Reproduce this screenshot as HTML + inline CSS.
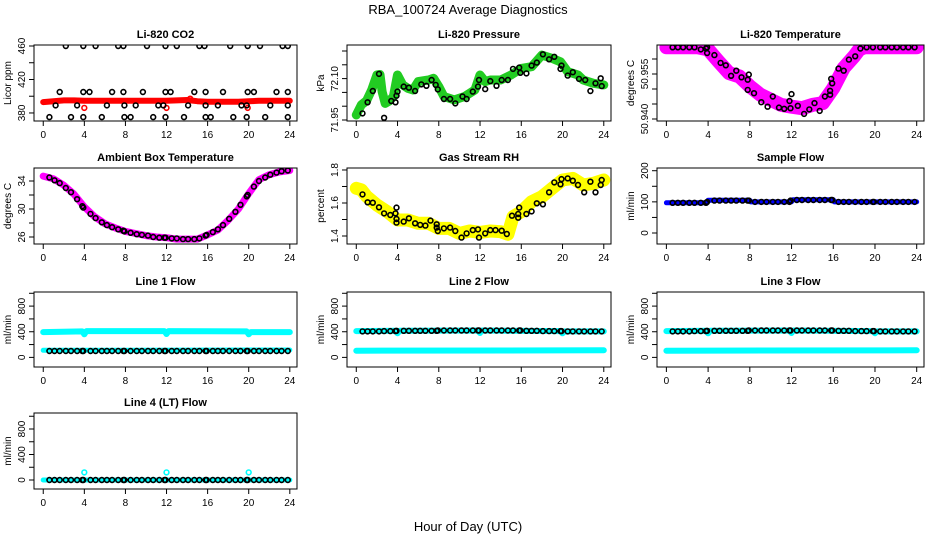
<!DOCTYPE html>
<html><head><meta charset="utf-8"><style>
html,body{margin:0;padding:0;background:#fff}
svg{display:block;font-family:"Liberation Sans",sans-serif}
</style></head><body>
<svg id="chart" width="936" height="540" viewBox="0 0 936 540">
<text x="468" y="14" text-anchor="middle" font-size="13">RBA_100724  Average Diagnostics</text>
<text x="468" y="531" text-anchor="middle" font-size="13">Hour of Day (UTC)</text>
</svg>
<script>
// ---------- data ----------
const blackHours = [0.6,1.1,1.6,2.2,2.7,3.3,3.8,3.9,4.6,5.1,5.7,6.2,6.7,7.3,7.8,7.9,8.5,9.1,9.6,10.2,10.7,11.3,11.8,11.9,12.5,13.0,13.6,14.1,14.7,15.2,15.8,15.9,16.5,17.0,17.5,18.1,18.7,19.2,19.8,19.9,20.5,21.0,21.6,22.1,22.7,23.2,23.8];
const hourly = [0,1,2,3,4,5,6,7,8,9,10,11,12,13,14,15,16,17,18,19,20,21,22,23,24];

// CO2
const co2Band = [393,394,395,395,394.5,394.5,394.5,394.5,394.5,394.5,394.5,394.5,394.5,395,395.5,394,393.5,393.5,393.5,393.5,394,394.5,394.5,394.5,394.5];
const co2RedX = [4,12,14.3,19.9];
const co2RedY = [386,386,397,386];
const co2BlackX = [2.2,3.9,5.1,7.3,7.8,10.1,11.9,13.0,15.2,15.7,18.2,19.9,21.1,23.3,23.8, 1.6,3.9,4.5,6.7,7.8,9.7,11.9,12.4,14.7,15.8,17.5,19.9,20.5,22.7,23.8, 1.2,3.3,6.2,7.9,9.0,11.2,11.7,14.1,15.8,17.0,19.3,19.8,22.1,23.8, 0.6,2.7,3.9,5.7,7.9,8.5,10.7,11.9,13.7,15.8,16.3,18.5,19.8,21.6,23.8];
const co2BlackY = [460,460,460,460,460,460,460,460,460,460,460,460,460,460,460, 405,405,405,405,405,405,405,405,405,405,405,405,405,405,405, 389,389,389,389,389,389,389,389,389,389,389,389,389,389, 375,375,375,375,375,375,375,375,375,375,375,375,375,375,375];

// Pressure
const presBandX = [0,0.5,1,1.5,2,2.3,2.5,2.8,3.2,3.6,4,4.5,5,5.5,6,7,7.5,8,8.5,9.5,10.5,11.5,12,12.5,13,14,15,16,17,18,19,19.8,20.5,21.5,22,23,24];
const presBandY = [71.968,72.005,72.02,72.06,72.113,72.115,72.053,72.01,72.019,72.035,72.113,72.077,72.065,72.059,72.089,72.095,72.101,72.071,72.035,72.023,72.035,72.059,72.113,72.089,72.095,72.095,72.113,72.137,72.143,72.185,72.173,72.161,72.125,72.113,72.095,72.083,72.077];
const presBlackX = [0.6,1.1,1.6,2.2,2.7,3.4,3.8,3.9,4,4.6,5.1,5.7,6.3,6.8,7.3,7.7,7.9,8.5,9.1,9.6,10.3,10.7,11.3,11.8,11.9,12.5,13,13.6,14.1,14.7,15.2,15.8,15.9,16.5,17,17.5,18.1,18.7,19.2,19.8,19.9,20.5,21,21.6,22.2,22.7,23.2,23.7,23.8];
const presBlackY = [71.974,72.014,72.055,72.117,71.958,72.019,72.014,72.038,72.053,72.071,72.067,72.055,72.079,72.074,72.095,72.077,72.061,72.026,72.026,72.010,72.035,72.026,72.053,72.071,72.095,72.062,72.091,72.074,72.095,72.095,72.135,72.140,72.121,72.119,72.147,72.158,72.188,72.170,72.179,72.135,72.147,72.111,72.123,72.099,72.095,72.055,72.083,72.101,72.073];

// Li-820 Temperature
const tempBandX = [0,1,2,3,4,5,6,7,8,9,10,11,12,13,14,15,16,17,18,18.5,19,20,21,22,23,24];
const tempBandY = [50.9639,50.9639,50.9639,50.9639,50.9632,50.9592,50.9553,50.9542,50.9509,50.9481,50.9464,50.9447,50.9441,50.9436,50.9447,50.9453,50.9503,50.9570,50.9609,50.9632,50.9639,50.9639,50.9639,50.9639,50.9639,50.9639];
const tempBlackX = [0.6,1.1,1.6,2.2,2.7,3.3,3.8,3.9,3.9,4.6,5.2,5.7,6.2,6.7,7.2,7.8,7.9,7.8,8.4,9.1,9.7,10.2,10.8,11.3,11.8,11.9,12,12.6,13.2,13.7,14.2,14.7,15.2,15.7,15.7,15.8,15.9,16.5,17,17.5,18.1,18.6,19.2,19.8,20.5,21,21.6,22.1,22.7,23.2,23.8];
const tempBlackY = [50.9639,50.9639,50.9639,50.9639,50.9639,50.9632,50.9635,50.9620,50.9639,50.9613,50.9587,50.9579,50.9544,50.9561,50.9539,50.9531,50.9548,50.9497,50.9486,50.9456,50.9441,50.9475,50.9438,50.9434,50.9460,50.9436,50.9483,50.9444,50.9417,50.9432,50.9453,50.9427,50.9475,50.9481,50.9494,50.9534,50.9519,50.9568,50.9561,50.9598,50.9609,50.9635,50.9639,50.9639,50.9639,50.9639,50.9639,50.9639,50.9639,50.9639,50.9639];

// Ambient
const ambBand = [34.7,34.3,33.4,32.1,30.3,28.9,27.9,27.3,26.8,26.5,26.2,26.0,25.9,25.7,25.7,25.7,26.3,27.0,28.4,30.0,32.2,34.2,34.9,35.3,35.5];
const ambBlack = [34.5,34.1,33.7,33.0,32.4,31.4,30.4,30.2,29.3,28.7,28.1,27.7,27.4,27.1,26.9,26.8,26.6,26.4,26.3,26.2,26.0,25.9,25.9,25.9,25.8,25.8,25.7,25.7,25.7,25.8,26.2,26.3,26.7,27.1,27.7,28.6,29.6,30.6,31.8,32.0,33.2,34.0,34.5,34.9,35.2,35.4,35.5];

// RH
const rhBandX = [0,0.5,1,2,3,4,5,6,7,8,9,10,11,12,13,14,14.7,15.2,16,17,18,19,20,21,22,23,24];
const rhBandY = [1.689,1.68,1.64,1.588,1.547,1.497,1.497,1.477,1.477,1.446,1.446,1.416,1.43,1.422,1.43,1.426,1.41,1.517,1.547,1.608,1.638,1.689,1.739,1.749,1.709,1.719,1.739];
const rhBlackX = [0.6,1.1,1.6,2.2,2.7,3.3,3.8,3.9,3.9,3.9,4.6,5.1,5.7,6.2,6.7,7.2,7.8,7.8,7.9,8.5,9.1,9.6,10.2,10.7,11.3,11.8,11.9,12.5,13,13.5,14.1,14.6,15.1,15.7,15.7,15.8,16.5,17,17.5,18.1,18.7,19.2,19.8,19.9,20.5,21,21.5,22.1,22.7,23.2,23.7,23.8];
const rhBlackY = [1.652,1.604,1.602,1.574,1.537,1.527,1.537,1.572,1.503,1.481,1.487,1.507,1.477,1.467,1.463,1.493,1.471,1.451,1.430,1.446,1.451,1.430,1.390,1.416,1.436,1.440,1.390,1.416,1.436,1.436,1.432,1.412,1.523,1.533,1.511,1.572,1.533,1.549,1.598,1.592,1.665,1.725,1.713,1.745,1.749,1.735,1.709,1.665,1.729,1.665,1.709,1.739];

// Sample flow
const sfBandX = [0,3.9,4.0,8.0,8.1,12.0,12.1,16.0,16.1,24];
const sfBandY = [97,97,105,105,100,100,107,107,100,100];
const sfBlack = [97,97,97,97,97,97,97,100,104,104,104,104,104,104,104,104,100,100,100,100,100,100,100,104,106,106,106,106,106,106,106,106,100,100,100,100,100,100,100,100,100,100,100,100,100,100,100];

// Line flows
const flowUpperX = [0,3.8,4,4.2,11.8,12,12.2,19.8,20,20.2,24];
const l1UpperY = [395,405,360,410,410,365,410,405,360,395,395];
const l23UpperY = [410,415,375,415,420,380,420,410,375,405,405];
const lowerX = [0,24];
const l1LowerY = [110,115];
const l23LowerY = [105,110];
const l1Black = [100,100,100,100,100,100,100,100,100,100,100,100,100,100,100,100,100,100,100,100,100,100,100,100,100,100,100,100,100,100,100,100,100,100,100,100,100,100,100,100,100,100,100,100,100,100,100];
const l2Black = [405,405,405,405,410,410,410,415,415,415,415,415,415,415,415,420,420,420,420,420,420,420,420,420,420,420,420,420,420,420,420,420,415,415,415,410,410,410,410,410,405,405,405,405,405,405,405];
const l3Black = [405,405,405,405,410,410,410,415,415,415,415,415,415,415,415,420,420,420,420,420,420,420,420,420,420,420,420,420,420,420,420,420,415,415,415,410,410,410,410,410,405,405,405,405,405,405,405];
const l4BandY = [0,0];
const l4OutX = [4,12,20];
const l4OutY = [120,120,120];
const l4Black = [0,0,0,0,0,0,0,0,0,0,0,0,0,0,0,0,0,0,0,0,0,0,0,0,0,0,0,0,0,0,0,0,0,0,0,0,0,0,0,0,0,0,0,0,0,0,0];

// tick labels
const xTicks = [0,4,8,12,16,20,24];
const flowTicks = [0,200,400,600,800,1000];
const flowLabels = ["0","","400","","800",""];

// ---------- rendering ----------
const svg = document.getElementById('chart');
const NS = 'http://www.w3.org/2000/svg';
function mk(tag, attrs, parent){const e=document.createElementNS(NS,tag);for(const k in attrs)e.setAttribute(k,attrs[k]);(parent||svg).appendChild(e);return e;}

const cols = [[34,297],[347,611],[657,924]];
const rows = [[45,121],[168,244],[292,367],[413,489]];

function panel(cfg){
  const [l,r]=cols[cfg.c], [t,b]=rows[cfg.r];
  const g = mk('g',{});
  
  
  const sx = v => l + (v+0.9)/25.6*(r-l);
  const sy = v => b - (v-cfg.ymin)/(cfg.ymax-cfg.ymin)*(b-t);
  const clip = 'clip'+cfg.name;
  const cp = mk('clipPath',{id:clip},g); mk('rect',{x:l,y:t,width:r-l,height:b-t},cp);
  const pg = mk('g',{'clip-path':'url(#'+clip+')'},g);
  (cfg.bands||[]).forEach(bd=>{
    const pts = bd.x.map((x,i)=>sx(x).toFixed(1)+','+sy(bd.y[i]).toFixed(1)).join(' ');
    const pl = mk('polyline',{points:pts,fill:'none',stroke:bd.col,'stroke-width':bd.w,'stroke-linejoin':'round','stroke-linecap':'round'},pg);
    
    
  });
  (cfg.pts||[]).forEach(ps=>{
    ps.x.forEach((x,i)=>{
      const c = mk('circle',{cx:sx(x).toFixed(1),cy:sy(ps.y[i]).toFixed(1),r:2.4,fill:'none',stroke:ps.col,'stroke-width':1.6},pg);
      
      
    });
  });
  const box = mk('rect',{x:l,y:t,width:r-l,height:b-t,fill:'none',stroke:'#000','stroke-width':1},g);
  
  
  // x axis
  xTicks.forEach(v=>{
    const x=sx(v);
    mk('line',{x1:x,x2:x,y1:b,y2:b+5,stroke:'#000'},g);
    const tx = mk('text',{x:x,y:b+17,'text-anchor':'middle','font-size':10},g);
    tx.textContent=v;
    
    
  });
  // y axis
  cfg.ticks.forEach((v,i)=>{
    const y=sy(v);
    mk('line',{x1:l,x2:l-5,y1:y,y2:y,stroke:'#000'},g);
    if(cfg.labels[i]){
      const tx = mk('text',{x:l-9,y:y,'text-anchor':'middle','font-size':10,transform:'rotate(-90 '+(l-9)+' '+y+')'},g);
      tx.textContent=cfg.labels[i];
      
      
    }
  });
  const yl = (t+b)/2, xl = l-23;
  const ylab = mk('text',{x:xl,y:yl,'text-anchor':'middle','font-size':10,transform:'rotate(-90 '+xl+' '+yl+')'},g);
  ylab.textContent=cfg.ylab;
  
  
  const ti = mk('text',{x:(l+r)/2,y:t-7,'text-anchor':'middle','font-size':11,'font-weight':'bold'},g);
  ti.textContent=cfg.title;
  
  
}

panel({name:'co2-panel',c:0,r:0,ymin:370.4,ymax:461.2,title:'Li-820 CO2',ylab:'Licor ppm',
  ticks:[380,400,420,440,460],labels:['380','','420','','460'],
  bands:[{x:hourly,y:co2Band,col:'#ff0000',w:6}],
  pts:[{x:co2RedX,y:co2RedY,col:'#ff0000'},{x:co2BlackX,y:co2BlackY,col:'#000'}]});
panel({name:'pressure-panel',c:1,r:0,ymin:71.9464,ymax:72.2217,title:'Li-820 Pressure',ylab:'kPa',
  ticks:[71.95,72.00,72.05,72.10,72.15,72.20],labels:['71.95','','','72.10','',''],
  bands:[{x:presBandX,y:presBandY,col:'#22cc22',w:9}],
  pts:[{x:presBlackX,y:presBlackY,col:'#000'}]});
panel({name:'temperature-panel',c:2,r:0,ymin:50.93933,ymax:50.96467,title:'Li-820 Temperature',ylab:'degrees C',
  ticks:[50.940,50.945,50.950,50.955,50.960],labels:['50.940','','','50.955',''],
  bands:[{x:tempBandX,y:tempBandY,col:'#ff00ff',w:14}],
  pts:[{x:tempBlackX,y:tempBlackY,col:'#000'}]});
panel({name:'ambient-panel',c:0,r:1,ymin:25.0,ymax:35.857,title:'Ambient Box Temperature',ylab:'degrees C',
  ticks:[26,28,30,32,34],labels:['26','','30','','34'],
  bands:[{x:hourly,y:ambBand,col:'#ff00ff',w:7}],
  pts:[{x:blackHours,y:ambBlack,col:'#000'}]});
panel({name:'rh-panel',c:1,r:1,ymin:1.3515,ymax:1.812,title:'Gas Stream RH',ylab:'percent',
  ticks:[1.4,1.5,1.6,1.7,1.8],labels:['1.4','','1.6','','1.8'],
  bands:[{x:rhBandX,y:rhBandY,col:'#ffff00',w:13}],
  pts:[{x:rhBlackX,y:rhBlackY,col:'#000'}]});
panel({name:'sample-flow-panel',c:2,r:1,ymin:-35.3,ymax:208.7,title:'Sample Flow',ylab:'ml/min',
  ticks:[0,50,100,150,200],labels:['0','','100','','200'],
  bands:[{x:sfBandX,y:sfBandY,col:'#0000ff',w:5}],
  pts:[{x:blackHours,y:sfBlack,col:'#000'}]});
panel({name:'line1-flow-panel',c:0,r:2,ymin:-150,ymax:1020,title:'Line 1 Flow',ylab:'ml/min',
  ticks:flowTicks,labels:flowLabels,
  bands:[{x:flowUpperX,y:l1UpperY,col:'#00ffff',w:6},{x:lowerX,y:l1LowerY,col:'#00ffff',w:5}],
  pts:[{x:blackHours,y:l1Black,col:'#000'}]});
panel({name:'line2-flow-panel',c:1,r:2,ymin:-150,ymax:1020,title:'Line 2 Flow',ylab:'ml/min',
  ticks:flowTicks,labels:flowLabels,
  bands:[{x:flowUpperX,y:l23UpperY,col:'#00ffff',w:6},{x:lowerX,y:l23LowerY,col:'#00ffff',w:6}],
  pts:[{x:blackHours,y:l2Black,col:'#000'}]});
panel({name:'line3-flow-panel',c:2,r:2,ymin:-150,ymax:1020,title:'Line 3 Flow',ylab:'ml/min',
  ticks:flowTicks,labels:flowLabels,
  bands:[{x:flowUpperX,y:l23UpperY,col:'#00ffff',w:6},{x:lowerX,y:l23LowerY,col:'#00ffff',w:6}],
  pts:[{x:blackHours,y:l3Black,col:'#000'}]});
panel({name:'line4-flow-panel',c:0,r:3,ymin:-141,ymax:1051,title:'Line 4 (LT) Flow',ylab:'ml/min',
  ticks:flowTicks,labels:flowLabels,
  bands:[{x:lowerX,y:l4BandY,col:'#00ffff',w:5}],
  pts:[{x:l4OutX,y:l4OutY,col:'#00ffff'},{x:blackHours,y:l4Black,col:'#000'}]});
</script>
</body></html>
